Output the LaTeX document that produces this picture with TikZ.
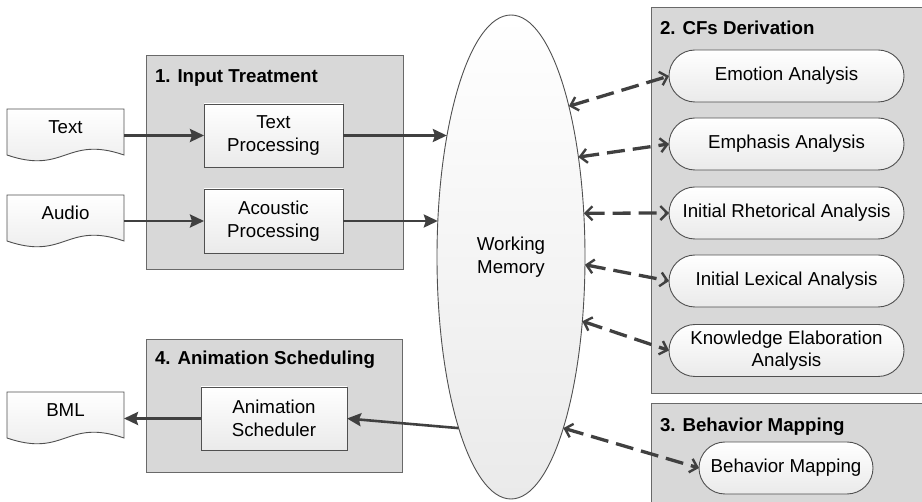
\documentclass[tikz,border=0pt]{standalone}
\usepackage{fontspec}
\setmainfont{Liberation Sans}
\usetikzlibrary{arrows.meta,shapes.geometric,backgrounds}

\definecolor{grpfill}{RGB}{216,216,216}
\definecolor{grpline}{RGB}{105,105,105}
\definecolor{boxline}{RGB}{80,80,80}
\definecolor{arrowcol}{RGB}{64,64,64}
\definecolor{boxbottom}{RGB}{234,234,234}

% document symbol: straight top and sides, wavy bottom edge
\newcommand\docoutline[1]{%
  \path[docbody] (#1.north west) -- (#1.north east) -- ([yshift=-10pt]#1.south east)
    .. controls ([xshift=-58pt,yshift=10pt]#1.south east)
       and ([xshift=58pt,yshift=-30pt]#1.south west)
    .. ([yshift=-10pt]#1.south west) -- cycle;}

\begin{document}
\begin{tikzpicture}[x=1pt,y=-1pt,
  every node/.style={font=\fontsize{18.7}{22.5}\selectfont, inner sep=0pt, outer sep=0pt},
  group/.style={rectangle, draw=grpline, line width=0.9pt, fill=grpfill},
  grouptitle/.style={anchor=base west, font=\fontsize{18.7}{22.5}\selectfont\bfseries},
  procbox/.style={rectangle, draw=boxline, line width=0.9pt, top color=white,
    bottom color=boxbottom, align=center},
  pill/.style={procbox, rounded corners=26pt, minimum height=52pt},
  docnode/.style={minimum width=117pt, minimum height=36pt},
  docbody/.style={draw=boxline, line width=0.9pt, top color=white, bottom color=boxbottom},
  memory/.style={ellipse, draw=boxline, line width=0.9pt, top color=white,
    bottom color=boxbottom, minimum width=148pt, minimum height=484pt, align=center},
  flow/.style={draw=arrowcol, line width=2.6pt,
    -{Stealth[length=14pt,width=13pt,inset=2pt]}},
  link/.style={draw=arrowcol, line width=3.3pt, dash pattern=on 18pt off 8pt,
    {Straight Barb[length=7pt,width=14pt,line width=2.4pt]}-{Straight Barb[length=7pt,width=14pt,line width=2.4pt]}}
]
\useasboundingbox (0,0) rectangle (922,502);

% stage containers
\node[group, minimum width=257pt, minimum height=214pt] (g1) at (274.5,162) {};
\node[grouptitle] (g1t) at (155,83) {1. Input Treatment};
\node[group, minimum width=280pt, minimum height=386pt] (g2) at (791,200) {};
\node[grouptitle] (g2t) at (660,35) {2. CFs Derivation};
\node[group, minimum width=280pt, minimum height=110pt] (g3) at (791,458) {};
\node[grouptitle] (g3t) at (660,432) {3. Behavior Mapping};
\node[group, minimum width=256pt, minimum height=133pt] (g4) at (274,405.5) {};
\node[grouptitle] (g4t) at (155,365) {4. Animation Scheduling};

% processing steps
\node[procbox, minimum width=139pt, minimum height=63pt] (tp) at (273.5,135.5) {Text\\Processing};
\node[procbox, minimum width=139pt, minimum height=64pt] (ap) at (273.5,221) {Acoustic\\Processing};
\node[procbox, minimum width=146pt, minimum height=63pt] (as) at (274,418.5) {Animation\\Scheduler};

% inputs and output documents
\node[docnode] (txt) at (65.5,127) {Text};
\node[docnode] (aud) at (65.5,213) {Audio};
\node[docnode] (bml) at (65.5,410) {BML};
\begin{scope}[on background layer]
  \docoutline{txt}
  \docoutline{aud}
  \docoutline{bml}
\end{scope}

% shared memory
\node[memory] (mem) at (511,257) {Working\\Memory};

% analysis modules
\node[pill, minimum width=235pt] (emo) at (786.5,76) {Emotion Analysis};
\node[pill, minimum width=235pt] (emp) at (786.5,144) {Emphasis Analysis};
\node[pill, minimum width=235pt] (rhe) at (786.5,213) {Initial Rhetorical Analysis};
\node[pill, minimum width=235pt] (lex) at (786.5,281) {Initial Lexical Analysis};
\node[pill, minimum width=235pt] (kno) at (786.5,350.5) {Knowledge Elaboration\\Analysis};
\node[pill, minimum width=174pt] (beh) at (786,468) {Behavior Mapping};

% data flow
\draw[flow] (txt.east |- tp.west) -- (tp.west);
\draw[flow] (aud.east |- ap.west) -- (ap.west);
\draw[flow] (tp.east) -- (tp.east -| mem.118);
\draw[flow] (ap.east) -- (ap.east -| mem.154);
\draw[flow] (mem.253) -- (as.east);
\draw[flow] (as.west) -- (as.west -| bml.east);

% memory exchanges
\draw[link] (mem.69) -- (emo.west);
\draw[link] (mem.56) -- (emp.west);
\draw[link] (mem.31) -- (rhe.west);
\draw[link] (mem.354) -- (lex.west);
\draw[link] (mem.318) -- (kno.west);
\draw[link] (mem.287) -- (beh.west);
\end{tikzpicture}
\end{document}
